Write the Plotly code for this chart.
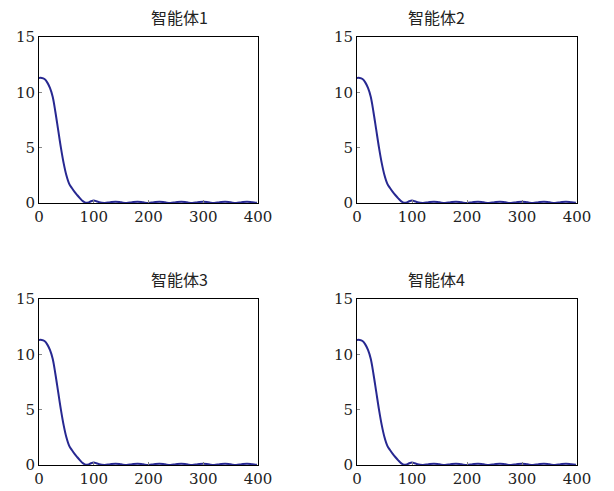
import plotly.graph_objects as go

titles = ["智能体1", "智能体2", "智能体3", "智能体4"]
t = [0, 5, 10, 15, 20, 25, 30, 35, 40, 45, 50, 55, 60, 65, 70, 75, 80, 85, 90, 95,
     100, 105, 110, 120, 130, 140, 150, 160, 170, 180, 190, 200, 210, 220, 230, 240,
     250, 260, 270, 280, 290, 300, 310, 320, 330, 340, 350, 360, 370, 380, 390, 398]
y = [11.3, 11.3, 11.2, 10.9, 10.4, 9.6, 8.2, 6.6, 5.0, 3.6, 2.5, 1.75, 1.35, 1.0, 0.7, 0.42, 0.17, 0.03, 0.04, 0.16,
     0.22, 0.16, 0.06, 0.0, 0.07, 0.12, 0.06, 0.0, 0.07, 0.12, 0.06, 0.0, 0.07, 0.12, 0.06, 0.0,
     0.07, 0.12, 0.06, 0.0, 0.07, 0.12, 0.06, 0.0, 0.07, 0.12, 0.06, 0.0, 0.07, 0.12, 0.06, 0.02]
xticks = [0, 100, 200, 300, 400]
yticks = [0, 5, 10, 15]

W, H = 614, 491
boxes = [(39, 258, 37, 203), (357, 577, 37, 203), (39, 258, 299, 465), (357, 577, 299, 465)]
serif = "DejaVu Serif, Liberation Serif, serif"
title_font = "Noto Sans CJK SC"

fig = go.Figure()
for i, (x0, x1, y0, y1) in enumerate(boxes):
    n = "" if i == 0 else str(i + 1)
    fig.add_trace(go.Scatter(x=t, y=y, mode="lines", line=dict(color="#272891", width=2, shape="spline"),
                             xaxis="x" + n, yaxis="y" + n, showlegend=False))
    fig.update_layout(**{
        "xaxis" + n: dict(domain=[x0 / W, x1 / W], range=[0, 400], tickvals=xticks, anchor="y" + n,
                          showline=True, mirror=True, linecolor="black", linewidth=1, automargin=False,
                          ticks="inside", ticklen=3, tickcolor="#888", showgrid=False, zeroline=False,
                          tickfont=dict(family=serif, size=15, color="#222")),
        "yaxis" + n: dict(domain=[1 - y1 / H, 1 - y0 / H], range=[0, 15], tickvals=yticks, anchor="x" + n,
                          showline=True, mirror=True, linecolor="black", linewidth=1, automargin=False,
                          ticks="inside", ticklen=3, tickcolor="#888", showgrid=False, zeroline=False,
                          tickfont=dict(family=serif, size=15, color="#222")),
    })
    fig.add_annotation(text=titles[i], x=(x0 + x1) / 2 / W, y=1 - (y0 - 20) / H, xref="paper", yref="paper",
                       showarrow=False, font=dict(family=title_font, size=16, color="#222"), yanchor="middle")

fig.update_layout(width=W, height=H, margin=dict(l=0, r=0, t=0, b=0),
                  paper_bgcolor="white", plot_bgcolor="white")
fig.write_html("out.html", config={"displayModeBar": False},
               post_script="document.body.style.margin='0';")
